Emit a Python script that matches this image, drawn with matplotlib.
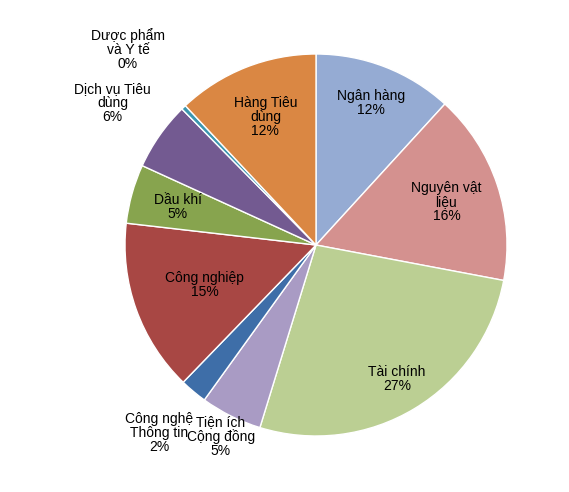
import matplotlib
matplotlib.use("Agg")
import matplotlib.pyplot as plt
import numpy as np

labels = ["Ngân hàng", "Nguyên vật\nliệu", "Tài chính", "Tiện ích\nCộng đồng", "Công nghệ\nThông tin",
          "Công nghiệp", "Dầu khí", "Dịch vụ Tiêu\ndùng", "Dược phẩm\nvà Y tế", "Hàng Tiêu\ndùng"]
pct_text = ["12%", "16%", "27%", "5%", "2%", "15%", "5%", "6%", "0%", "12%"]
values = [11.8, 16.2, 26.8, 5.2, 2.3, 14.6, 5.0, 5.8, 0.4, 12.0]
colors = ["#95ABD3", "#D4918F", "#BBCF93", "#A99BC4", "#3E6EA8", "#A84744",
          "#87A44E", "#735A91", "#3C96AE", "#DA8743"]
rfac = [0.80, 0.72, 0.82, 1.12, 1.28, 0.62, 0.75, 1.30, 1.42, 0.72]

plt.rcParams['font.family'] = ['Liberation Sans', 'DejaVu Sans']
fig = plt.figure(figsize=(5.69, 4.92), dpi=100)
ax = fig.add_axes([0, 0, 1, 1])
cx, cy, R = 316, 492 - 245, 191
wedges, _ = ax.pie(values, colors=colors, startangle=90, counterclock=False,
                   center=(cx, cy), radius=R, wedgeprops=dict(edgecolor="white", linewidth=1))
for w, lab, p, f in zip(wedges, labels, pct_text, rfac):
    a = np.deg2rad((w.theta1 + w.theta2) / 2)
    x = cx + f * R * np.cos(a)
    y = cy + f * R * np.sin(a)
    ax.text(x, y, lab + "\n" + p, ha="center", va="center", fontsize=10, linespacing=1.0)
ax.set_xlim(0, 569)
ax.set_ylim(0, 492)
ax.set_aspect("equal")
ax.axis("off")
fig.savefig("out.png", dpi=100)
